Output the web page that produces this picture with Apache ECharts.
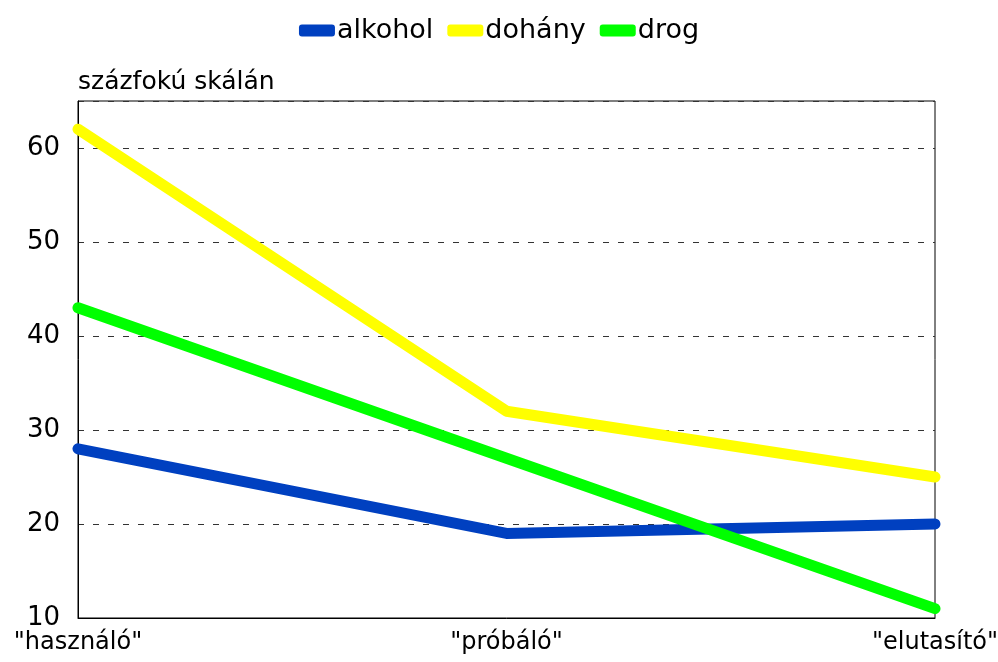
<!DOCTYPE html>
<html>
<head>
<meta charset="utf-8">
<style>
  html, body { margin: 0; padding: 0; background: #fff; }
  #chart { width: 998px; height: 662px; }
</style>
<script src="https://cdn.jsdelivr.net/npm/echarts@6/dist/echarts.min.js"></script>
</head>
<body>
<div id="chart"></div>
<script>
// Attitude groups on the horizontal axis
const categories = ['"használó"', '"próbáló"', '"elutasító"'];

// Scores on a 0–100 scale
const alkohol = [28, 19, 20];
const dohany = [62, 32, 25];
const drog = [43, 27, 11];

const seriesNames = ['alkohol', 'dohány', 'drog'];
const seriesColors = ['#0040C0', '#FFFF00', '#00FF00'];
const yAxisName = 'százfokú skálán';

const font = '"DejaVu Sans", "Liberation Sans", Arial, sans-serif';

const chart = echarts.init(document.getElementById('chart'), null, { renderer: 'canvas' });

const makeLine = (name, data, color) => ({
  name: name,
  type: 'line',
  data: data,
  symbol: 'none',
  color: color,
  lineStyle: { width: 11, color: color, cap: 'round', join: 'round' },
  emphasis: { disabled: true }
});

chart.setOption({
  animation: false,
  backgroundColor: '#fff',
  textStyle: { fontFamily: font, color: '#000' },
  legend: {
    top: 12,
    left: 'center',
    icon: 'roundRect',
    itemWidth: 36,
    itemHeight: 12,
    itemGap: 14,
    textStyle: { fontSize: 27, color: '#000', fontFamily: font, padding: [0, 0, 0, -3] },
    data: seriesNames
  },
  grid: {
    left: 78,
    right: 63,
    top: 101,
    bottom: 44,
    outerBoundsMode: 'none',
    containLabel: false,
    show: true,
    borderColor: '#000',
    borderWidth: 1,
    backgroundColor: 'transparent'
  },
  xAxis: {
    type: 'category',
    data: categories,
    boundaryGap: false,
    axisLine: { show: true, lineStyle: { color: '#000', width: 1 } },
    axisTick: { show: false },
    axisLabel: { fontSize: 24, color: '#000', fontFamily: font, margin: 13, interval: 0 },
    splitLine: { show: false }
  },
  yAxis: {
    type: 'value',
    min: 10,
    max: 65,
    interval: 10,
    name: yAxisName,
    nameLocation: 'end',
    nameGap: 6,
    nameTextStyle: { fontSize: 25, color: '#000', fontFamily: font, align: 'left' },
    axisLine: { show: true, lineStyle: { color: '#000', width: 1 } },
    axisTick: { show: false },
    axisLabel: { fontSize: 26, color: '#000', fontFamily: font, margin: 18, showMaxLabel: false },
    splitLine: { show: true, lineStyle: { color: '#333', width: 1, type: [6, 9] } }
  },
  series: [
    makeLine(seriesNames[0], alkohol, seriesColors[0]),
    makeLine(seriesNames[1], dohany, seriesColors[1]),
    makeLine(seriesNames[2], drog, seriesColors[2])
  ]
});
</script>
</body>
</html>
